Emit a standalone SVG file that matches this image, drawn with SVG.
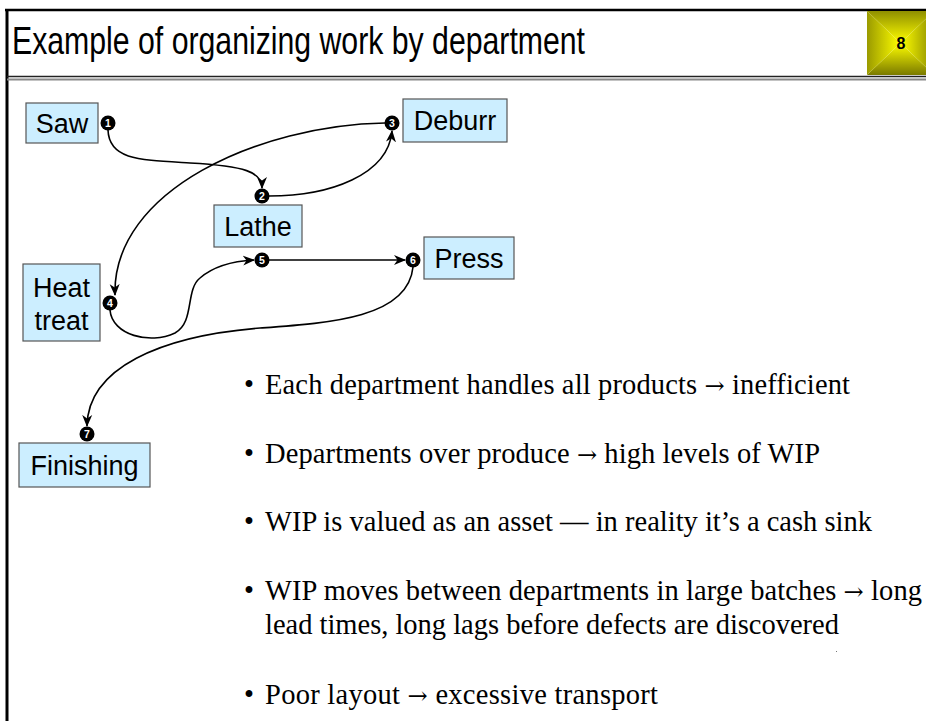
<svg xmlns="http://www.w3.org/2000/svg" width="926" height="721" viewBox="0 0 926 721">
  <style>
    .box { fill: #cceeff; stroke: #555555; stroke-width: 1.2; }
    .lbl { font-family: "Liberation Sans", Arial, sans-serif; font-size: 27px; fill: #000; text-anchor: middle; }
    .dot { fill: #000; }
    .num { font-family: "Liberation Sans", Arial, sans-serif; font-size: 10.5px; font-weight: bold; fill: #fff; text-anchor: middle; }
    .edge { fill: none; stroke: #000; stroke-width: 1.6; }
    .bul { font-family: "Liberation Serif", "Times New Roman", serif; font-size: 28.5px; fill: #000; }
    .ar { font-family: "DejaVu Serif", serif; font-size: 24px; }
  </style>
  <defs>
    <marker id="arr" viewBox="0 0 12 12" refX="11" refY="6" markerWidth="12" markerHeight="12" markerUnits="userSpaceOnUse" orient="auto">
      <path d="M0,1 L12,6 L0,11 L3.5,6 z" fill="#000"/>
    </marker>
    <linearGradient id="gT" x1="0" y1="0" x2="0" y2="1"><stop offset="0" stop-color="#8f8f00"/><stop offset="1" stop-color="#ffff00"/></linearGradient>
    <linearGradient id="gB" x1="0" y1="1" x2="0" y2="0"><stop offset="0" stop-color="#7a7a00"/><stop offset="1" stop-color="#ffff00"/></linearGradient>
    <linearGradient id="gL" x1="0" y1="0" x2="1" y2="0"><stop offset="0" stop-color="#9a9a00"/><stop offset="1" stop-color="#ffff00"/></linearGradient>
    <linearGradient id="gR" x1="1" y1="0" x2="0" y2="0"><stop offset="0" stop-color="#8a8a00"/><stop offset="1" stop-color="#ffff00"/></linearGradient>
  </defs>

  <rect x="0" y="0" width="926" height="721" fill="#ffffff"/>

  <!-- slide frame -->
  <g id="frame">
    <line x1="5" y1="10" x2="926" y2="10" stroke="#000" stroke-width="2.5"/>
    <line x1="7" y1="9" x2="7" y2="721" stroke="#000" stroke-width="3"/>
    <line x1="7" y1="76.5" x2="926" y2="76.5" stroke="#222" stroke-width="1.5"/>
    <line x1="7" y1="79.5" x2="926" y2="79.5" stroke="#888" stroke-width="2"/>
  </g>

  <!-- title -->
  <g id="title">
    <text x="12" y="54" font-family="'Liberation Sans Narrow', 'Liberation Sans', Arial, sans-serif" font-size="39" textLength="573" lengthAdjust="spacingAndGlyphs">Example of organizing work by department</text>
  </g>

  <!-- page number badge -->
  <g id="page-number">
    <polygon points="867,11 934,11 900.5,43" fill="url(#gT)"/>
    <polygon points="867,75 934,75 900.5,43" fill="url(#gB)"/>
    <polygon points="867,11 867,75 900.5,43" fill="url(#gL)"/>
    <polygon points="934,11 934,75 900.5,43" fill="url(#gR)"/>
    <text x="901" y="49" font-family="'Liberation Sans', Arial, sans-serif" font-size="16" font-weight="bold" text-anchor="middle">8</text>
  </g>

  <!-- connectors -->
  <g id="connectors">
    <path class="edge" d="M108,130 C109,160 140,160 190,163 C245,166 262,172 262,188" marker-end="url(#arr)"/>
    <path class="edge" d="M269,196 C330,196 388,175 392,131" marker-end="url(#arr)"/>
    <path class="edge" d="M385,123 C260,125 112,190 115,295" marker-end="url(#arr)"/>
    <path class="edge" d="M110,310 C112,335 150,345 175,333 C195,322 185,290 200,278 C215,265 235,261 254,260" marker-end="url(#arr)"/>
    <path class="edge" d="M269,260 L405,260" marker-end="url(#arr)"/>
    <path class="edge" d="M413,267 C408,318 330,323 260,328 C160,336 88,368 87,426" marker-end="url(#arr)"/>
  </g>

  <!-- departments -->
  <g id="saw">
    <rect class="box" x="26" y="103" width="72" height="40"/>
    <text class="lbl" x="62" y="133">Saw</text>
  </g>
  <g id="deburr">
    <rect class="box" x="403" y="99" width="104" height="43"/>
    <text class="lbl" x="455" y="130">Deburr</text>
  </g>
  <g id="lathe">
    <rect class="box" x="214" y="205" width="88" height="42"/>
    <text class="lbl" x="258" y="236">Lathe</text>
  </g>
  <g id="press">
    <rect class="box" x="424" y="237" width="90" height="42"/>
    <text class="lbl" x="469" y="268">Press</text>
  </g>
  <g id="heat-treat">
    <rect class="box" x="23" y="264" width="77" height="77"/>
    <text class="lbl" x="61.5" y="297">Heat</text>
    <text class="lbl" x="61.5" y="330">treat</text>
  </g>
  <g id="finishing">
    <rect class="box" x="19" y="443" width="131" height="44"/>
    <text class="lbl" x="84.5" y="475">Finishing</text>
  </g>

  <!-- numbered steps -->
  <g id="step-1"><circle class="dot" cx="108" cy="123" r="7.5"/><text class="num" x="108" y="127">1</text></g>
  <g id="step-2"><circle class="dot" cx="262" cy="196" r="7.5"/><text class="num" x="262" y="200">2</text></g>
  <g id="step-3"><circle class="dot" cx="392" cy="123" r="7.5"/><text class="num" x="392" y="127">3</text></g>
  <g id="step-4"><circle class="dot" cx="110" cy="303" r="7.5"/><text class="num" x="110" y="307">4</text></g>
  <g id="step-5"><circle class="dot" cx="262" cy="260" r="7.5"/><text class="num" x="262" y="264">5</text></g>
  <g id="step-6"><circle class="dot" cx="413" cy="260" r="7.5"/><text class="num" x="413" y="264">6</text></g>
  <g id="step-7"><circle class="dot" cx="87" cy="434" r="7.5"/><text class="num" x="87" y="438">7</text></g>

  <!-- bullet list -->
  <g id="bullets">
    <text class="bul" x="244" y="394">•</text>
    <text class="bul" x="265" y="394" textLength="585">Each department handles all products <tspan class="ar">→</tspan> inefficient</text>
    <text class="bul" x="244" y="463">•</text>
    <text class="bul" x="265" y="463" textLength="555">Departments over produce <tspan class="ar">→</tspan> high levels of WIP</text>
    <text class="bul" x="244" y="531">•</text>
    <text class="bul" x="265" y="531" textLength="607">WIP is valued as an asset — in reality it’s a cash sink</text>
    <text class="bul" x="244" y="600">•</text>
    <text class="bul" x="265" y="600" textLength="657">WIP moves between departments in large batches <tspan class="ar">→</tspan> long</text>
    <text class="bul" x="265" y="634" textLength="574">lead times, long lags before defects are discovered</text>
    <text class="bul" x="244" y="704">•</text>
    <text class="bul" x="265" y="704" textLength="393">Poor layout <tspan class="ar">→</tspan> excessive transport</text>
  </g>
  <rect x="836" y="651" width="1" height="1" fill="#777"/>
</svg>
